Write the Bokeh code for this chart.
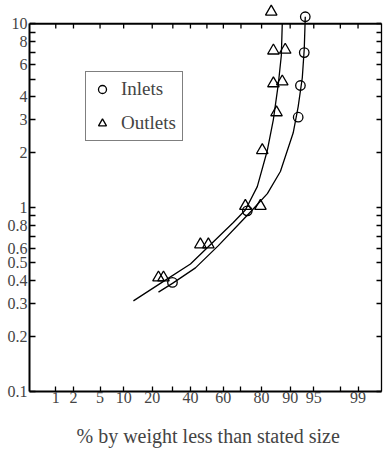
from statistics import NormalDist
from bokeh.plotting import figure
from bokeh.models import (Range1d, LogAxis, FixedTicker, Span, Legend, LegendItem,
                          Title)
from bokeh.embed import file_html
from bokeh.resources import INLINE

# ---------------- data (percent by weight less than size, size) ----------------
inlet_pct = [29.8, 73.3, 92.0, 92.5, 93.3, 93.5]
inlet_size = [0.392, 0.96, 3.1, 4.61, 6.96, 10.9]

outlet_pct = [22.8, 25.2, 46.0, 50.9, 72.3, 79.5, 80.3, 85.8, 84.7, 87.7, 84.7, 88.6, 83.9]
outlet_size = [0.416, 0.416, 0.63, 0.63, 1.02, 1.02, 2.05, 3.29, 4.73, 4.84, 7.13, 7.2, 11.6]

inlet_curve_pct = [22.8, 29.8, 43.0, 57.0, 69.7, 75.3, 82.4, 87.1, 90.8, 92.0, 92.9, 93.3, 93.5]
inlet_curve_size = [0.347, 0.387, 0.470, 0.621, 0.829, 0.958, 1.19, 1.57, 2.55, 3.54, 5.08, 7.3, 10.9]

outlet_curve_pct = [12.9, 23.7, 40.0, 49.1, 65.8, 72.3, 78.1, 82.4, 84.7, 86.4, 87.4, 87.7]
outlet_curve_size = [0.311, 0.387, 0.493, 0.591, 0.829, 0.97, 1.30, 2.05, 3.02, 4.67, 6.71, 10.0]

x_ticks_pct = [1, 2, 5, 10, 20, 30, 40, 50, 60, 70, 80, 90, 95, 98, 99]
x_tick_labels = ["1", "2", "5", "10", "20", "", "40", "", "60", "", "80", "90", "95", "", "99"]

y_ticks = [0.1, 0.2, 0.3, 0.4, 0.5, 0.6, 0.7, 0.8, 0.9, 1, 2, 3, 4, 5, 6, 7, 8, 9, 10]
y_tick_labels = ["0.1", "0.2", "0.3", "0.4", "0.5", "0.6", "", "0.8", "", "1",
                 "2", "3", "4", "", "6", "", "8", "", "10"]

x_pct_range = (0.316, 99.64)
y_range = (0.1, 13.36)
frame_top_value = 10

legend_labels = ["Inlets", "Outlets"]
x_title = "% by weight less than stated size"

# ---------------- probability (normal) scale ----------------
nd = NormalDist()


def probit(p):
    return round(nd.inv_cdf(p / 100.0), 6)


SERIF = "Liberation Serif"

p = figure(width=385, height=463,
           x_range=Range1d(probit(x_pct_range[0]), probit(x_pct_range[1])),
           y_range=Range1d(*y_range), y_axis_type="log",
           output_backend="svg", toolbar_location=None,
           min_border_left=29, min_border_right=4, min_border_top=0,
           min_border_bottom=58)
p.outline_line_color = None
p.grid.visible = False
p.background_fill_color = "white"

# curves
p.line([probit(v) for v in outlet_curve_pct], outlet_curve_size,
       line_color="black", line_width=1.3)
p.line([probit(v) for v in inlet_curve_pct], inlet_curve_size,
       line_color="black", line_width=1.3)

# points
r_in = p.scatter([probit(v) for v in inlet_pct], inlet_size, marker="circle",
                 size=9.5, fill_color=None, line_color="black", line_width=1.3)
r_out = p.scatter([probit(v) for v in outlet_pct], outlet_size, marker="triangle",
                  size=11.5, fill_color=None, line_color="black", line_width=1.3)

# x axis (probability scale)
xt = [probit(v) for v in x_ticks_pct]
xa = p.xaxis[0]
xa.ticker = FixedTicker(ticks=xt)
xa.major_label_overrides = {t: lab for t, lab in zip(xt, x_tick_labels)}
xa.minor_tick_line_color = None
xa.major_tick_in = 5
xa.major_tick_out = 0
xa.axis_line_width = 2
xa.major_tick_line_width = 1.3
xa.major_label_text_font = SERIF
xa.major_label_text_font_size = "16px"
xa.major_label_standoff = 0

# left y axis
ya = p.yaxis[0]
ya.ticker = FixedTicker(ticks=y_ticks)
ya.major_label_overrides = {t: lab for t, lab in zip(y_ticks, y_tick_labels)}
ya.minor_tick_line_color = None
ya.major_tick_in = 6
ya.major_tick_out = 0
ya.axis_line_width = 2
ya.major_tick_line_width = 1.3
ya.bounds = (y_ticks[0], frame_top_value)
ya.major_label_text_font = SERIF
ya.major_label_text_font_size = "16px"
ya.major_label_standoff = 2

# right y axis (ticks only)
ra = LogAxis(ticker=FixedTicker(ticks=y_ticks), bounds=(y_ticks[0], frame_top_value),
             major_label_overrides={t: "" for t in y_ticks},
             major_tick_in=5, major_tick_out=0, minor_tick_line_color=None,
             major_label_standoff=0, axis_line_width=1.3, major_tick_line_width=1.3,
             major_label_text_font_size="1px")
p.add_layout(ra, "right")

# top border at 10 with ticks
p.add_layout(Span(location=frame_top_value, dimension="width", line_color="black",
                  line_width=2))
tick_len = 10 ** (-5 / 190.5)
p.segment(x0=xt, y0=[frame_top_value] * len(xt), x1=xt,
          y1=[frame_top_value * tick_len] * len(xt), line_color="black", line_width=1.3)

# legend
legend = Legend(items=[LegendItem(label=legend_labels[0], renderers=[r_in]),
                       LegendItem(label=legend_labels[1], renderers=[r_out])],
                location=(56, 250), orientation="vertical",
                label_text_font=SERIF, label_text_font_size="19px",
                border_line_color="black", border_line_width=1.3,
                padding=6, spacing=12, glyph_width=20, glyph_height=20,
                label_standoff=9, margin=0, background_fill_alpha=1)
p.add_layout(legend)

# x title
p.add_layout(Title(text=x_title, align="left", offset=47, text_font=SERIF,
                   text_font_size="20px", text_font_style="normal", standoff=34), "below")

open("out.html", "w").write(file_html(p, INLINE))
